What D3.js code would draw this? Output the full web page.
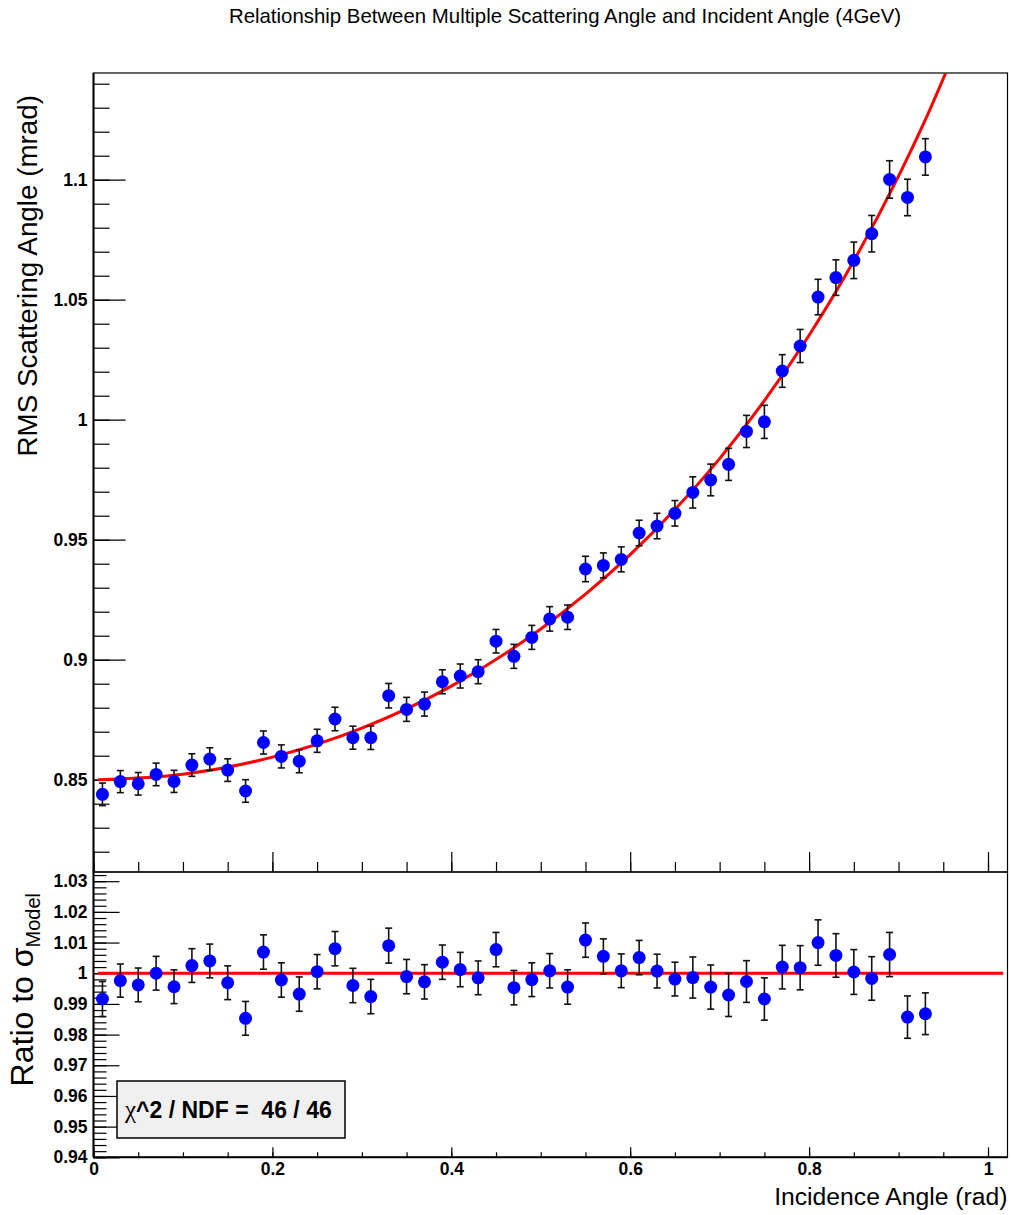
<!DOCTYPE html>
<html>
<head>
<meta charset="utf-8">
<script src="https://cdn.jsdelivr.net/npm/d3@7"></script>
<style>
  body { margin: 0; background: #fff; }
  #chart { width: 1011px; height: 1215px; }
  text { font-family: "Liberation Sans", Arial, Helvetica, sans-serif; }
  .tick text { font-weight: bold; font-size: 17.5px; fill: #000; }
  .tick line { stroke: #000; stroke-width: 1.2; }
</style>
</head>
<body>
<div id="chart"></div>
<script>
// incidence angle bins (rad)
var incAngle = [0.01, 0.03, 0.05, 0.07, 0.09, 0.11, 0.13, 0.15, 0.17, 0.19,
    0.21, 0.23, 0.25, 0.27, 0.29, 0.31, 0.33, 0.35, 0.37, 0.39,
    0.41, 0.43, 0.45, 0.47, 0.49, 0.51, 0.53, 0.55, 0.57, 0.59,
    0.61, 0.63, 0.65, 0.67, 0.69, 0.71, 0.73, 0.75, 0.77, 0.79,
    0.81, 0.83, 0.85, 0.87, 0.89, 0.91, 0.93];

// RMS scattering angle (mrad) and its error
var rmsAngle = [0.8439, 0.8492, 0.8483, 0.8522, 0.8493, 0.8561, 0.8586, 0.8540, 0.8453, 0.8655,
    0.8597, 0.8577, 0.8662, 0.8753, 0.8675, 0.8675, 0.8850, 0.8793, 0.8815, 0.8908,
    0.8932, 0.8950, 0.9077, 0.9014, 0.9093, 0.9170, 0.9177, 0.9378, 0.9393, 0.9418,
    0.9528, 0.9557, 0.9610, 0.9697, 0.9749, 0.9814, 0.9951, 0.9991, 1.0203, 1.0307,
    1.0511, 1.0592, 1.0664, 1.0775, 1.1001, 1.0926, 1.1095];
var rmsErr = [0.0047, 0.0046, 0.0047, 0.0047, 0.0046, 0.0047, 0.0047, 0.0047, 0.0047, 0.0048,
    0.0048, 0.0048, 0.0048, 0.0049, 0.0048, 0.0049, 0.0051, 0.0050, 0.0050, 0.0050,
    0.0050, 0.0050, 0.0049, 0.0050, 0.0050, 0.0051, 0.0051, 0.0053, 0.0052, 0.0052,
    0.0053, 0.0053, 0.0053, 0.0065, 0.0066, 0.0067, 0.0067, 0.0069, 0.0068, 0.0069,
    0.0074, 0.0074, 0.0076, 0.0076, 0.0078, 0.0076, 0.0076];

// ratio to model and its error
var ratio = [0.9916, 0.9976, 0.9962, 1.0000, 0.9956, 1.0025, 1.0040, 0.9969, 0.9853, 1.0069,
    0.9978, 0.9932, 1.0005, 1.0080, 0.9960, 0.9924, 1.0090, 0.9989, 0.9972, 1.0036,
    1.0012, 0.9985, 1.0077, 0.9953, 0.9979, 1.0008, 0.9955, 1.0108, 1.0055, 1.0008,
    1.0051, 1.0007, 0.9981, 0.9986, 0.9955, 0.9929, 0.9973, 0.9916, 1.0020, 1.0018,
    1.0100, 1.0058, 1.0004, 0.9983, 1.0061, 0.9857, 0.9868];
var ratioErr = [0.0057, 0.0054, 0.0055, 0.0055, 0.0055, 0.0055, 0.0055, 0.0055, 0.0055, 0.0056,
    0.0056, 0.0056, 0.0056, 0.0056, 0.0056, 0.0056, 0.0057, 0.0056, 0.0056, 0.0056,
    0.0056, 0.0055, 0.0056, 0.0056, 0.0055, 0.0056, 0.0056, 0.0056, 0.0057, 0.0055,
    0.0056, 0.0055, 0.0055, 0.0067, 0.0072, 0.0070, 0.0068, 0.0069, 0.0071, 0.0072,
    0.0074, 0.0071, 0.0073, 0.0071, 0.0072, 0.0069, 0.0068];

// fitted model curve
var fitAngle = [0.005, 0.1, 0.2, 0.3, 0.4, 0.5, 0.55, 0.6, 0.65, 0.7, 0.75, 0.8, 0.85, 0.9, 0.93, 0.96];
var fitRms = [0.8500, 0.8523, 0.8594, 0.8715, 0.8890, 0.9128, 0.9273, 0.9438, 0.9626, 0.9838,
    1.0079, 1.0352, 1.0662, 1.1015, 1.1250, 1.1509];

// reference line in the ratio pad
var ratioLineX = [0.005, 1.017];
var ratioLineY = [1, 1];

// tick labels
var xTicks = [0, 0.2, 0.4, 0.6, 0.8, 1];
var topYTicks = [0.85, 0.9, 0.95, 1, 1.05, 1.1];
var ratioYTicks = [0.94, 0.95, 0.96, 0.97, 0.98, 0.99, 1, 1.01, 1.02, 1.03];

var chiText = "^2 / NDF =  46 / 46";

// Layout
var width = 1011, height = 1215;
var left = 93.5, right = 1007.5;
var topY0 = 73, topY1 = 872;      // upper pad
var botY0 = 872, botY1 = 1157.3;  // ratio pad

var svg = d3.select("#chart").append("svg")
    .attr("width", width)
    .attr("height", height);

var x = d3.scaleLinear().domain([0, 1.0218]).range([left, right]);
var yTop = d3.scaleLinear().domain([0.81154, 1.14446]).range([topY1, topY0]);
var yBot = d3.scaleLinear().domain([0.94, 1.033]).range([botY1, botY0]);

var fmt = d3.format("~g");

// minor tick positions
var xMinor = d3.range(0, 1.021, 0.05);
var topMinor = d3.range(0.82, 1.145, 0.01);
var botMinor = d3.range(0.94, 1.033, 0.002);

// clip for the fit curve
svg.append("clipPath").attr("id", "clipTop")
    .append("rect")
    .attr("x", left).attr("y", topY0)
    .attr("width", right - left).attr("height", topY1 - topY0);

// ---- upper pad axes ----
var gTop = svg.append("g").attr("id", "topPad");

gTop.append("g")
    .attr("transform", "translate(" + left + ",0)")
    .call(d3.axisLeft(yTop).tickValues(topMinor).tickSize(-16).tickFormat(""))
    .call(function(g) { g.select(".domain").remove(); });
gTop.append("g")
    .attr("transform", "translate(" + left + ",0)")
    .call(d3.axisLeft(yTop).tickValues(topYTicks).tickSize(-32).tickPadding(6).tickFormat(fmt))
    .call(function(g) { g.select(".domain").remove(); });

gTop.append("g")
    .attr("transform", "translate(0," + topY1 + ")")
    .call(d3.axisBottom(x).tickValues(xMinor).tickSize(-10).tickFormat(""))
    .call(function(g) { g.select(".domain").remove(); });
gTop.append("g")
    .attr("transform", "translate(0," + topY1 + ")")
    .call(d3.axisBottom(x).tickValues(xTicks).tickSize(-20).tickFormat(""))
    .call(function(g) { g.select(".domain").remove(); });

gTop.append("rect")
    .attr("x", left).attr("y", topY0)
    .attr("width", right - left).attr("height", topY1 - topY0)
    .attr("fill", "none").attr("stroke", "#000").attr("stroke-width", 1.2);
gTop.append("line")
    .attr("x1", left).attr("x2", left).attr("y1", topY0).attr("y2", topY1)
    .attr("stroke", "#000").attr("stroke-width", 2);

// fit curve
var fitLine = d3.line()
    .x(function(d, i) { return x(fitAngle[i]); })
    .y(function(d) { return yTop(d); })
    .curve(d3.curveMonotoneX);
gTop.append("path")
    .attr("clip-path", "url(#clipTop)")
    .attr("d", fitLine(fitRms))
    .attr("fill", "none").attr("stroke", "#ff0000").attr("stroke-width", 3);

// error bars + points
function drawPoints(g, yScale, vals, errs) {
    var pts = g.append("g").selectAll("g")
        .data(vals)
        .enter().append("g");
    pts.append("line")
        .attr("x1", function(d, i) { return x(incAngle[i]); })
        .attr("x2", function(d, i) { return x(incAngle[i]); })
        .attr("y1", function(d, i) { return yScale(d - errs[i]); })
        .attr("y2", function(d, i) { return yScale(d + errs[i]); })
        .attr("stroke", "#111").attr("stroke-width", 1.6);
    [-1, 1].forEach(function(s) {
        pts.append("line")
            .attr("x1", function(d, i) { return x(incAngle[i]) - 3.5; })
            .attr("x2", function(d, i) { return x(incAngle[i]) + 3.5; })
            .attr("y1", function(d, i) { return yScale(d + s * errs[i]); })
            .attr("y2", function(d, i) { return yScale(d + s * errs[i]); })
            .attr("stroke", "#111").attr("stroke-width", 1.6);
    });
    pts.append("circle")
        .attr("cx", function(d, i) { return x(incAngle[i]); })
        .attr("cy", function(d) { return yScale(d); })
        .attr("r", 6.5)
        .attr("fill", "#0000ff");
}
drawPoints(gTop, yTop, rmsAngle, rmsErr);

// ---- ratio pad ----
var gBot = svg.append("g").attr("id", "ratioPad");

gBot.append("g")
    .attr("transform", "translate(" + left + ",0)")
    .call(d3.axisLeft(yBot).tickValues(botMinor).tickSize(-13).tickFormat(""))
    .call(function(g) { g.select(".domain").remove(); });
gBot.append("g")
    .attr("transform", "translate(" + left + ",0)")
    .call(d3.axisLeft(yBot).tickValues(ratioYTicks).tickSize(-26).tickPadding(6).tickFormat(fmt))
    .call(function(g) { g.select(".domain").remove(); });

gBot.append("g")
    .attr("transform", "translate(0," + botY1 + ")")
    .call(d3.axisBottom(x).tickValues(xMinor).tickSize(-5).tickFormat(""))
    .call(function(g) { g.select(".domain").remove(); });
gBot.append("g")
    .attr("class", "xlab")
    .attr("transform", "translate(0," + botY1 + ")")
    .call(d3.axisBottom(x).tickValues(xTicks).tickSize(-10).tickPadding(4).tickFormat(fmt))
    .call(function(g) { g.select(".domain").remove(); })
    .call(function(g) { g.selectAll("text").attr("dy", "0.78em"); });

gBot.append("rect")
    .attr("x", left).attr("y", botY0)
    .attr("width", right - left).attr("height", botY1 - botY0)
    .attr("fill", "none").attr("stroke", "#000").attr("stroke-width", 1.2);
gBot.append("line")
    .attr("x1", left).attr("x2", left).attr("y1", botY0).attr("y2", botY1)
    .attr("stroke", "#000").attr("stroke-width", 2);
gBot.append("line")
    .attr("x1", left).attr("x2", right).attr("y1", botY1).attr("y2", botY1)
    .attr("stroke", "#000").attr("stroke-width", 2);

var refLine = d3.line()
    .x(function(d, i) { return x(ratioLineX[i]); })
    .y(function(d) { return yBot(d); });
gBot.append("path")
    .attr("d", refLine(ratioLineY))
    .attr("fill", "none").attr("stroke", "#ff0000").attr("stroke-width", 3);

drawPoints(gBot, yBot, ratio, ratioErr);

// chi2 box
var box = gBot.append("g");
box.append("rect")
    .attr("x", 117).attr("y", 1081)
    .attr("width", 228).attr("height", 57)
    .attr("fill", "#f0f0f0").attr("stroke", "#000").attr("stroke-width", 1.5);
var chi = box.append("text")
    .attr("x", 125).attr("y", 1118)
    .style("font-size", "23px")
    .style("white-space", "pre");
chi.append("tspan")
    .style("font-family", "'Liberation Serif', 'DejaVu Serif', serif")
    .style("font-size", "25px")
    .text("\u03c7");
chi.append("tspan")
    .style("font-weight", "bold")
    .text(chiText);

// ---- titles ----
svg.append("text")
    .attr("x", 565).attr("y", 23)
    .attr("text-anchor", "middle")
    .style("font-size", "20.4px")
    .text("Relationship Between Multiple Scattering Angle and Incident Angle (4GeV)");

svg.append("text")
    .attr("transform", "translate(37,95) rotate(-90)")
    .attr("text-anchor", "end")
    .style("font-size", "27.8px")
    .text("RMS Scattering Angle (mrad)");

var rt = svg.append("text")
    .attr("transform", "translate(33,893) rotate(-90)")
    .attr("text-anchor", "end")
    .style("font-size", "32px");
rt.append("tspan").text("Ratio to \u03c3");
rt.append("tspan").attr("dy", 7).style("font-size", "20px").text("Model");

svg.append("text")
    .attr("x", right).attr("y", 1205)
    .attr("text-anchor", "end")
    .style("font-size", "24.7px")
    .text("Incidence Angle (rad)");
</script>
</body>
</html>
